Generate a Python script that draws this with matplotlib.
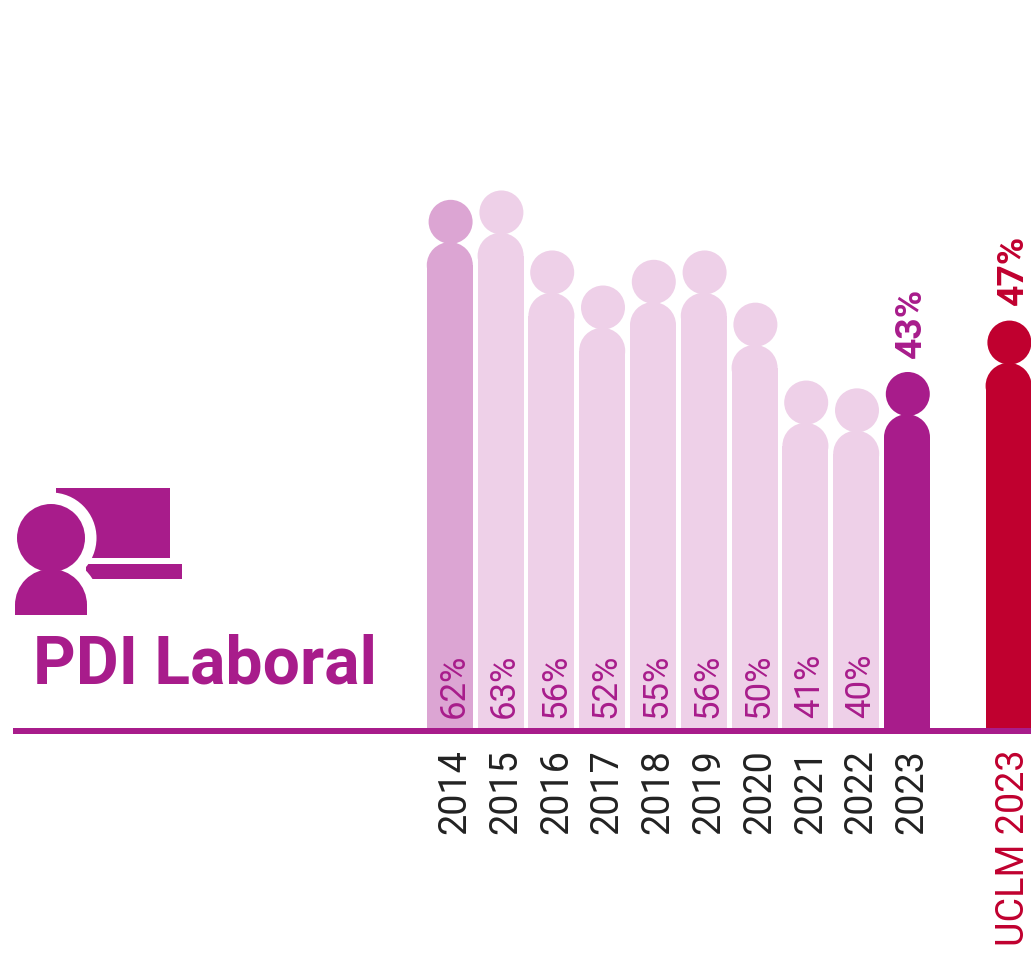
import matplotlib
matplotlib.use("Agg")
import matplotlib.pyplot as plt
from matplotlib.patches import Circle, Ellipse, Rectangle, Wedge

plt.rcParams['font.family'] = ['Roboto', 'DejaVu Sans']

# --- data ---
years = ['2014', '2015', '2016', '2017', '2018', '2019', '2020', '2021', '2022', '2023']
labels = ['62%', '63%', '56%', '52%', '55%', '56%', '50%', '41%', '40%']
last_label = '43%'
bar_values = [62.5, 63.7, 56.0, 51.5, 54.8, 56.0, 49.3, 39.3, 38.3, 40.4]
uclm_value = 47.0
uclm_label = '47%'
uclm_year = 'UCLM 2023'
title = 'PDI Laboral'

PURPLE = '#A81C8B'
MID = '#DCA5D3'
LIGHT = '#EED0E8'
RED = '#C0002F'
DARK = '#222222'

W, H = 1031, 957
X0, DX = 449.8, 50.8     # pixel of index 0, pixels per index
Y0, DY = 729.0, 7.79     # pixel of baseline, pixels per value unit
BW = 46 / DX             # body width in x units
RX, RY = 23 / DX, 23 / DY   # shoulder radii
HX, HY = 22 / DX, 22 / DY   # head radii
OFF = 20.3 / DY          # head centre above body top
HSHIFT = 0.8 / DX        # head centre to the right of the body centre

fig = plt.figure(figsize=(W / 100, H / 100), dpi=100, facecolor='white')

# pixel overlay for decoration (icon, baseline)
pax = fig.add_axes([0, 0, 1, 1], zorder=3)
pax.set_xlim(0, W); pax.set_ylim(H, 0); pax.axis('off'); pax.patch.set_alpha(0)

# data axes
ax = fig.add_axes([0, 0, 1, 1], zorder=2)
ax.set_xlim(-X0 / DX, (W - X0) / DX)
ax.set_ylim((Y0 - H) / DY, Y0 / DY)
ax.axis('off')


def person(x, v, color):
    ax.bar(x, v - RY, width=BW, color=color, linewidth=0, align='center')
    ax.add_patch(Ellipse((x, v - RY), 2 * RX, 2 * RY, color=color, lw=0))
    ax.add_patch(Ellipse((x + HSHIFT, v + OFF), 2 * HX, 2 * HY, color=color, lw=0))


colors = [MID] + [LIGHT] * 8 + [PURPLE]
for i, (v, c) in enumerate(zip(bar_values, colors)):
    person(i, v, c)
uclm_x = len(years) + 1
person(uclm_x, uclm_value, RED)

# value labels inside the bars
for i, lab in enumerate(labels):
    ax.text(i + 4 / DX, 11 / DY, lab, rotation=90, ha='center', va='bottom',
            color=PURPLE, fontsize=25, rotation_mode='default')

# bold values over the heads
ax.text(9 + 4 / DX, bar_values[9] + OFF + HY + 14 / DY, last_label, rotation=90,
        ha='center', va='bottom', color=PURPLE, fontsize=26.8, fontweight='bold')
ax.text(uclm_x + 4 / DX, uclm_value + OFF + HY + 16 / DY, uclm_label, rotation=90,
        ha='center', va='bottom', color=RED, fontsize=26.8, fontweight='bold')

# year labels
for i, y in enumerate(years):
    ax.text(i + 5 / DX, -20.5 / DY, y, rotation=90, ha='center', va='top',
            color=DARK, fontsize=27.2)
ax.text(uclm_x + 5 / DX, -20.5 / DY, uclm_year, rotation=90, ha='center', va='top',
        color=RED, fontsize=27.2)

# baseline
pax.add_patch(Rectangle((13, 728), W - 13, 5.5, color=PURPLE, lw=0))

# icon
pax.add_patch(Rectangle((56, 487.5), 114, 70.5, color=PURPLE, lw=0))
pax.add_patch(Rectangle((86, 564), 96, 15, color=PURPLE, lw=0))
pax.add_patch(Circle((51, 538), 45.5, color='white', lw=0))
pax.add_patch(Circle((51, 605), 49, color='white', lw=0))
pax.add_patch(Circle((51, 538), 34, color=PURPLE, lw=0))
pax.add_patch(Wedge((51, 605), 36, 180, 360, color=PURPLE, lw=0))
pax.add_patch(Rectangle((15, 604), 72, 11, color=PURPLE, lw=0))

# title
pax.text(33, 683, title, color=PURPLE, fontsize=47.5, fontweight='bold',
         ha='left', va='baseline')

fig.savefig('out.png', dpi=100, facecolor='white')
